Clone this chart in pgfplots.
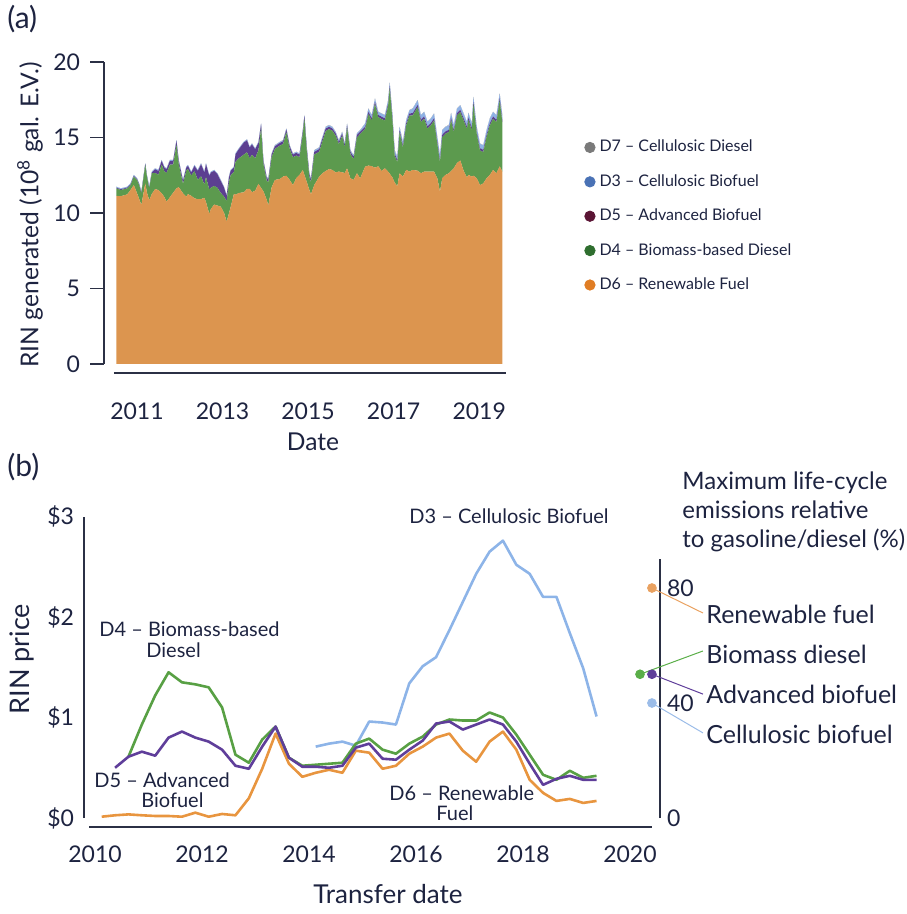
\documentclass[border=0pt]{standalone}
\usepackage{fontspec}
\setmainfont{Lato}
\usepackage{pgfplots}
\pgfplotsset{compat=1.18}
\usepackage{pgfplotstable}

\definecolor{txt}{HTML}{1D2340}
\definecolor{axc}{HTML}{2B3045}
\definecolor{aOr}{HTML}{DC954F}
\definecolor{aGr}{HTML}{5C9A4E}
\definecolor{aPu}{HTML}{5C3F91}
\definecolor{aBl}{HTML}{8FB2E5}
\definecolor{aGy}{HTML}{9A9A9A}
\definecolor{lGy}{HTML}{7A7A7A}
\definecolor{lBl}{HTML}{4A72B5}
\definecolor{lMa}{HTML}{5A1434}
\definecolor{lGr}{HTML}{2F6E2F}
\definecolor{lOr}{HTML}{E07D24}
\definecolor{bOr}{HTML}{E8953F}
\definecolor{bGr}{HTML}{58A044}
\definecolor{bPu}{HTML}{5F3E9A}
\definecolor{bBl}{HTML}{8DB4E8}
\definecolor{dOr}{HTML}{E9A160}
\definecolor{dGr}{HTML}{5AAE48}
\definecolor{dBl}{HTML}{9BBCE8}

\pgfplotstableread{
x O G P B D
2010.520 11.13 0.50 0.05 0.06 0
2010.620 11.11 0.41 0.05 0.06 0
2010.773 11.23 0.40 0.05 0.06 0
2010.850 11.52 0.33 0.05 0.06 0
2010.927 11.85 0.56 0.05 0.06 0
2011.003 11.30 0.89 0.05 0.06 0
2011.057 10.89 0.92 0.05 0.06 0
2011.103 10.53 0.77 0.05 0.06 0
2011.195 11.96 1.22 0.05 0.06 0
2011.233 11.36 1.05 0.05 0.06 0
2011.287 10.85 0.78 0.05 0.06 0
2011.348 11.26 1.37 0.05 0.06 0
2011.425 11.58 1.07 0.25 0.06 0
2011.502 11.52 1.02 0.25 0.06 0
2011.578 11.30 1.90 0.25 0.06 0
2011.640 11.06 1.70 0.25 0.06 0
2011.693 10.75 1.90 0.25 0.06 0
2011.770 11.04 2.16 0.25 0.06 0
2011.847 11.34 1.86 0.25 0.06 0
2011.924 11.63 2.89 0.25 0.06 0
2011.977 11.71 1.54 0.20 0.06 0
2012.077 11.30 0.63 0.20 0.06 0
2012.154 11.08 1.73 0.20 0.06 0
2012.192 11.25 1.67 0.20 0.06 0
2012.269 11.14 1.34 0.20 0.06 0
2012.345 10.97 1.80 0.35 0.06 0
2012.422 10.91 1.28 0.60 0.06 0
2012.499 10.92 1.51 0.80 0.06 0
2012.576 11.00 0.88 0.80 0.06 0
2012.614 10.73 1.65 0.85 0.06 0
2012.691 9.93 1.63 0.90 0.06 0
2012.729 10.27 1.41 1.00 0.06 0
2012.806 10.56 1.23 1.00 0.06 0
2012.882 10.49 1.18 0.90 0.06 0
2012.959 10.42 0.91 0.80 0.06 0
2013.036 10.01 1.07 0.60 0.06 0
2013.097 9.43 1.35 0.35 0.06 0
2013.151 9.98 2.07 0.30 0.06 0
2013.189 10.38 2.11 0.30 0.06 0
2013.266 11.26 1.45 0.30 0.06 0
2013.304 11.21 2.18 0.50 0.06 0
2013.381 11.32 2.30 0.60 0.06 0
2013.496 11.37 2.49 0.80 0.06 0
2013.573 11.59 2.43 0.80 0.06 0
2013.634 11.60 2.03 0.70 0.06 0
2013.688 11.37 2.48 0.70 0.06 0
2013.764 11.48 2.14 0.60 0.06 0
2013.841 11.92 2.24 0.50 0.06 0
2013.902 11.66 3.97 0.25 0.06 0
2013.956 11.43 1.82 0.18 0.06 0.02
2014.033 10.88 1.27 0.18 0.06 0.02
2014.071 10.49 1.55 0.18 0.06 0.02
2014.148 11.70 1.99 0.18 0.06 0.02
2014.225 12.19 2.05 0.18 0.06 0.02
2014.340 12.25 2.21 0.18 0.06 0.02
2014.416 12.41 2.16 0.18 0.06 0.02
2014.493 12.47 2.88 0.18 0.06 0.02
2014.570 12.19 2.05 0.18 0.06 0.02
2014.646 11.85 1.84 0.18 0.06 0.02
2014.723 12.30 1.50 0.18 0.06 0.02
2014.800 12.52 1.17 0.18 0.06 0.02
2014.877 12.85 2.39 0.18 0.06 0.02
2014.915 12.52 3.71 0.18 0.06 0.02
2014.969 12.06 2.07 0.18 0.06 0.02
2015.030 11.52 0.85 0.18 0.06 0.02
2015.068 11.24 0.80 0.18 0.06 0.02
2015.145 11.85 2.02 0.18 0.10 0.02
2015.260 12.41 1.64 0.18 0.10 0.02
2015.337 12.63 2.13 0.18 0.10 0.02
2015.413 12.78 2.64 0.18 0.10 0.02
2015.490 12.91 2.65 0.15 0.10 0.02
2015.567 12.85 2.60 0.15 0.10 0.02
2015.644 12.69 2.43 0.15 0.10 0.02
2015.720 12.74 1.82 0.15 0.10 0.02
2015.797 12.69 2.43 0.15 0.10 0.02
2015.858 12.65 1.69 0.15 0.10 0.02
2015.912 12.96 2.71 0.15 0.10 0.02
2015.989 12.30 1.60 0.15 0.10 0.02
2016.065 12.19 1.38 0.15 0.10 0.02
2016.142 12.63 2.38 0.15 0.10 0.02
2016.219 12.30 2.93 0.15 0.10 0.02
2016.334 13.07 2.50 0.15 0.20 0.02
2016.411 13.14 3.42 0.15 0.20 0.02
2016.487 13.10 3.02 0.15 0.20 0.02
2016.564 13.00 4.22 0.15 0.20 0.02
2016.641 13.09 3.25 0.15 0.20 0.02
2016.717 12.78 3.45 0.15 0.20 0.02
2016.794 12.96 3.16 0.15 0.20 0.02
2016.871 12.74 4.37 0.15 0.20 0.02
2016.909 12.60 5.66 0.15 0.20 0.02
2016.970 12.36 3.87 0.15 0.20 0.02
2017.024 12.02 1.78 0.15 0.20 0.02
2017.086 11.77 1.59 0.15 0.20 0.02
2017.139 12.63 2.72 0.15 0.20 0.02
2017.216 12.41 1.94 0.15 0.20 0.02
2017.293 12.85 2.94 0.15 0.20 0.02
2017.369 12.74 3.71 0.15 0.20 0.02
2017.446 12.85 3.61 0.15 0.30 0.02
2017.561 12.80 4.21 0.15 0.30 0.02
2017.638 12.63 3.39 0.15 0.30 0.02
2017.714 12.74 3.50 0.15 0.30 0.02
2017.791 12.74 2.84 0.15 0.30 0.02
2017.868 12.74 3.06 0.15 0.30 0.02
2017.945 12.74 3.39 0.15 0.30 0.02
2018.021 12.30 2.29 0.15 0.30 0.02
2018.083 11.41 1.96 0.15 0.30 0.02
2018.136 12.30 2.73 0.15 0.30 0.02
2018.213 12.52 2.73 0.15 0.30 0.02
2018.290 12.63 2.73 0.15 0.30 0.02
2018.343 12.78 3.39 0.15 0.30 0.02
2018.405 12.96 2.40 0.15 0.30 0.02
2018.481 13.31 3.15 0.15 0.30 0.02
2018.558 13.48 3.20 0.15 0.30 0.02
2018.635 12.80 3.33 0.15 0.30 0.02
2018.712 12.36 3.22 0.15 0.30 0.02
2018.750 12.52 3.65 0.15 0.30 0.02
2018.827 12.41 3.06 0.15 0.30 0.02
2018.865 12.47 4.76 0.15 0.30 0.02
2018.942 12.30 2.95 0.15 0.30 0.02
2019.018 11.85 2.29 0.15 0.30 0.02
2019.095 11.96 2.07 0.15 0.30 0.02
2019.172 12.30 2.73 0.15 0.30 0.02
2019.248 12.52 3.28 0.15 0.30 0.02
2019.325 12.85 3.39 0.15 0.30 0.02
2019.402 12.63 3.39 0.15 0.30 0.02
2019.479 13.09 4.36 0.15 0.30 0.02
2019.540 12.74 3.28 0.15 0.30 0.02
}\rinA

\begin{document}
\begin{tikzpicture}
\useasboundingbox (0,0) rectangle (453pt,-457pt);

% ---------------- panel (a)
\begin{axis}[at={(52pt,-186.5pt)}, anchor=south west, scale only axis,
 width=201.5pt, height=155.5pt,
 xmin=2010.23, xmax=2019.65, ymin=-0.6, ymax=20,
 axis x line=bottom, axis y line=left, axis line style={draw=none,-},
 xtick={2011,2013,2015,2017,2019}, xticklabels={2011,2013,2015,2017,2019},
 ytick={0,5,10,15,20}, yticklabels={0,5,10,15,20},
 tick align=outside, major tick length=7pt,
 xtick style={draw=none}, ytick style={axc, line width=0.6pt},
 tick label style={font=\fontsize{11.5}{13}\selectfont, text=txt},
 xticklabel style={yshift=-4.5pt}, yticklabel style={xshift=-1.5pt},
 stack plots=y, clip=false,
 legend style={draw=none, fill=none, at={(1.176,0.776)}, anchor=north west,
   font=\fontsize{8}{9}\selectfont, text=txt, row sep=5.8pt},
 legend cell align=left,
 legend image code/.code={\fill[#1] (0pt,0pt) circle (2.6pt);},
]
\addlegendimage{lGy}
\addlegendimage{lBl}
\addlegendimage{lMa}
\addlegendimage{lGr}
\addlegendimage{lOr}
\addplot[draw=none, fill=aOr] table[x=x,y=O]{\rinA} \closedcycle;
\addplot[draw=none, fill=aGr] table[x=x,y=G]{\rinA} \closedcycle;
\addplot[draw=none, fill=aPu] table[x=x,y=P]{\rinA} \closedcycle;
\addplot[draw=none, fill=aBl] table[x=x,y=B]{\rinA} \closedcycle;
\addplot[draw=none, fill=aGy] table[x=x,y=D]{\rinA} \closedcycle;
\legend{D7 -- Cellulosic Diesel, D3 -- Cellulosic Biofuel, D5 -- Advanced Biofuel, D4 -- Biomass-based Diesel, D6 -- Renewable Fuel}
\draw[axc, line width=0.8pt] (axis cs:2010.23,0) -- (axis cs:2010.23,20);
\draw[axc, line width=0.8pt] (axis cs:2010.46,-0.6) -- (axis cs:2019.62,-0.6);
\end{axis}

% ---------------- panel (b)
\begin{axis}[at={(42pt,-413.5pt)}, anchor=south west, scale only axis,
 width=288pt, height=156pt,
 xmin=2009.794, xmax=2020.561, ymin=-0.0896, ymax=3.015,
 axis x line=bottom, axis y line=left, axis line style={draw=none,-},
 xtick={2010,2012,2014,2016,2018,2020}, xticklabels={2010,2012,2014,2016,2018,2020},
 ytick={0,1,2,3}, yticklabels={\$0,\$1,\$2,\$3},
 major tick length=0pt, tick style={draw=none},
 tick label style={font=\fontsize{11.5}{13}\selectfont, text=txt},
 xticklabel style={yshift=-6pt}, yticklabel style={xshift=-1.5pt},
 clip=false, line join=round]
\draw[axc, line width=0.8pt] (axis cs:2009.794,0) -- (axis cs:2009.794,3);
\draw[axc, line width=0.8pt] (axis cs:2009.89,-0.0896) -- (axis cs:2020.41,-0.0896);
\addplot[bBl, line width=1.3pt] coordinates {
(2014.125,0.71) (2014.375,0.74) (2014.625,0.76) (2014.875,0.72) (2015.125,0.96)
(2015.375,0.95) (2015.625,0.93) (2015.875,1.34) (2016.125,1.51) (2016.375,1.60)
(2016.625,1.87) (2016.875,2.15) (2017.125,2.43) (2017.375,2.65) (2017.625,2.76)
(2017.875,2.52) (2018.125,2.43) (2018.375,2.20) (2018.625,2.20) (2018.875,1.84)
(2019.125,1.49) (2019.375,1.01)};
\addplot[bOr, line width=1.3pt] coordinates {
(2010.125,0.013) (2010.375,0.027) (2010.625,0.036) (2010.875,0.027) (2011.125,0.02)
(2011.375,0.02) (2011.625,0.013) (2011.875,0.053) (2012.125,0.013) (2012.375,0.04)
(2012.625,0.027) (2012.875,0.196) (2013.125,0.49) (2013.375,0.84) (2013.625,0.54)
(2013.875,0.41) (2014.125,0.45) (2014.375,0.48) (2014.625,0.45) (2014.875,0.67)
(2015.125,0.65) (2015.375,0.49) (2015.625,0.52) (2015.875,0.64) (2016.125,0.71)
(2016.375,0.80) (2016.625,0.84) (2016.875,0.67) (2017.125,0.56) (2017.375,0.76)
(2017.625,0.86) (2017.875,0.68) (2018.125,0.38) (2018.375,0.25) (2018.625,0.17)
(2018.875,0.19) (2019.125,0.15) (2019.375,0.17)};
\addplot[bGr, line width=1.3pt] coordinates {
(2010.625,0.61) (2010.875,0.93) (2011.125,1.22) (2011.375,1.45) (2011.625,1.35)
(2011.875,1.33) (2012.125,1.30) (2012.375,1.10) (2012.625,0.63) (2012.875,0.55)
(2013.125,0.78) (2013.375,0.91) (2013.625,0.60) (2013.875,0.52) (2014.125,0.53)
(2014.375,0.54) (2014.625,0.55) (2014.875,0.74) (2015.125,0.79) (2015.375,0.68)
(2015.625,0.64) (2015.875,0.74) (2016.125,0.81) (2016.375,0.93) (2016.625,0.98)
(2016.875,0.97) (2017.125,0.97) (2017.375,1.05) (2017.625,1.00) (2017.875,0.83)
(2018.125,0.63) (2018.375,0.43) (2018.625,0.38) (2018.875,0.47) (2019.125,0.40)
(2019.375,0.42)};
\addplot[bPu, line width=1.3pt] coordinates {
(2010.375,0.50) (2010.625,0.61) (2010.875,0.66) (2011.125,0.62) (2011.375,0.80)
(2011.625,0.86) (2011.875,0.80) (2012.125,0.76) (2012.375,0.68) (2012.625,0.52)
(2012.875,0.49) (2013.125,0.71) (2013.375,0.91) (2013.625,0.60) (2013.875,0.51)
(2014.125,0.51) (2014.375,0.50) (2014.625,0.52) (2014.875,0.70) (2015.125,0.74)
(2015.375,0.59) (2015.625,0.58) (2015.875,0.68) (2016.125,0.77) (2016.375,0.94)
(2016.625,0.96) (2016.875,0.88) (2017.125,0.93) (2017.375,0.98) (2017.625,0.93)
(2017.875,0.76) (2018.125,0.54) (2018.375,0.33) (2018.625,0.39) (2018.875,0.42)
(2019.125,0.38) (2019.375,0.38)};
\end{axis}

% ---------------- right axis (emissions)
\begin{axis}[at={(42pt,-413.5pt)}, anchor=south west, scale only axis,
 width=288pt, height=156pt,
 xmin=2009.794, xmax=2020.561, ymin=-3.13, ymax=105.39,
 axis x line=none, axis y line=right, axis line style={draw=none,-},
 ytick={0,40,80}, yticklabels={0,40,80},
 major tick length=0pt, tick style={draw=none},
 tick label style={font=\fontsize{11.5}{13}\selectfont, text=txt},
 clip=false]
\draw[axc, line width=0.8pt] (axis cs:2020.561,0) -- (axis cs:2020.561,90);
\draw[dOr, line width=0.5pt] (axis cs:2020.41,80) -- (axis cs:2021.364,71.3);
\draw[dGr, line width=0.5pt] (axis cs:2020.187,50) -- (axis cs:2021.364,58.1);
\draw[bPu, line width=0.5pt] (axis cs:2020.41,50) -- (axis cs:2021.364,43.1);
\draw[dBl, line width=0.5pt] (axis cs:2020.41,40) -- (axis cs:2021.364,29.6);
\addplot[only marks, mark=*, mark size=2.2pt, dOr] coordinates {(2020.41,80)};
\addplot[only marks, mark=*, mark size=2.2pt, dGr] coordinates {(2020.187,50)};
\addplot[only marks, mark=*, mark size=2.2pt, bPu] coordinates {(2020.41,50)};
\addplot[only marks, mark=*, mark size=2.2pt, dBl] coordinates {(2020.41,40)};
\end{axis}

% ---------------- texts (pixel coordinates)
\begin{scope}[x=0.5pt, y=-0.5pt, every node/.style={text=txt, inner sep=0pt}]
\node[font=\fontsize{15}{17}\selectfont, anchor=base west] at (7,29) {(a)};
\node[font=\fontsize{15}{17}\selectfont, anchor=base west] at (7,476) {(b)};
\node[font=\fontsize{12.3}{14}\selectfont, rotate=90] at (30,215) {RIN generated (10\textsuperscript{8} gal. E.V.)};
\node[font=\fontsize{12.3}{14}\selectfont, anchor=base] at (313,450) {Date};
\node[font=\fontsize{13.5}{15}\selectfont, rotate=90] at (22,659) {RIN price};
\node[font=\fontsize{13}{15}\selectfont, anchor=base] at (388,903) {Transfer date};
\begin{scope}[every node/.append style={font=\fontsize{10}{12}\selectfont, anchor=base west}]
\node at (409,523) {D3 -- Cellulosic Biofuel};
\node at (99,636) {D4 -- Biomass-based};
\node at (146,657) {Diesel};
\node at (94,787) {D5 -- Advanced};
\node at (141,807) {Biofuel};
\node at (389,800) {D6 -- Renewable};
\node at (436,820) {Fuel};
\end{scope}
\begin{scope}[every node/.append style={font=\fontsize{12}{14}\selectfont, anchor=base west}]
\node at (682,489) {Maximum life-cycle};
\node at (682,518) {emissions relative};
\node at (682,547) {to gasoline/diesel (\%)};
\end{scope}
\begin{scope}[every node/.append style={font=\fontsize{12.5}{14}\selectfont, anchor=base west}]
\node at (706,623) {Renewable fuel};
\node at (706,663) {Biomass diesel};
\node at (706,703) {Advanced biofuel};
\node at (706,743) {Cellulosic biofuel};
\end{scope}
\end{scope}
\end{tikzpicture}
\end{document}
